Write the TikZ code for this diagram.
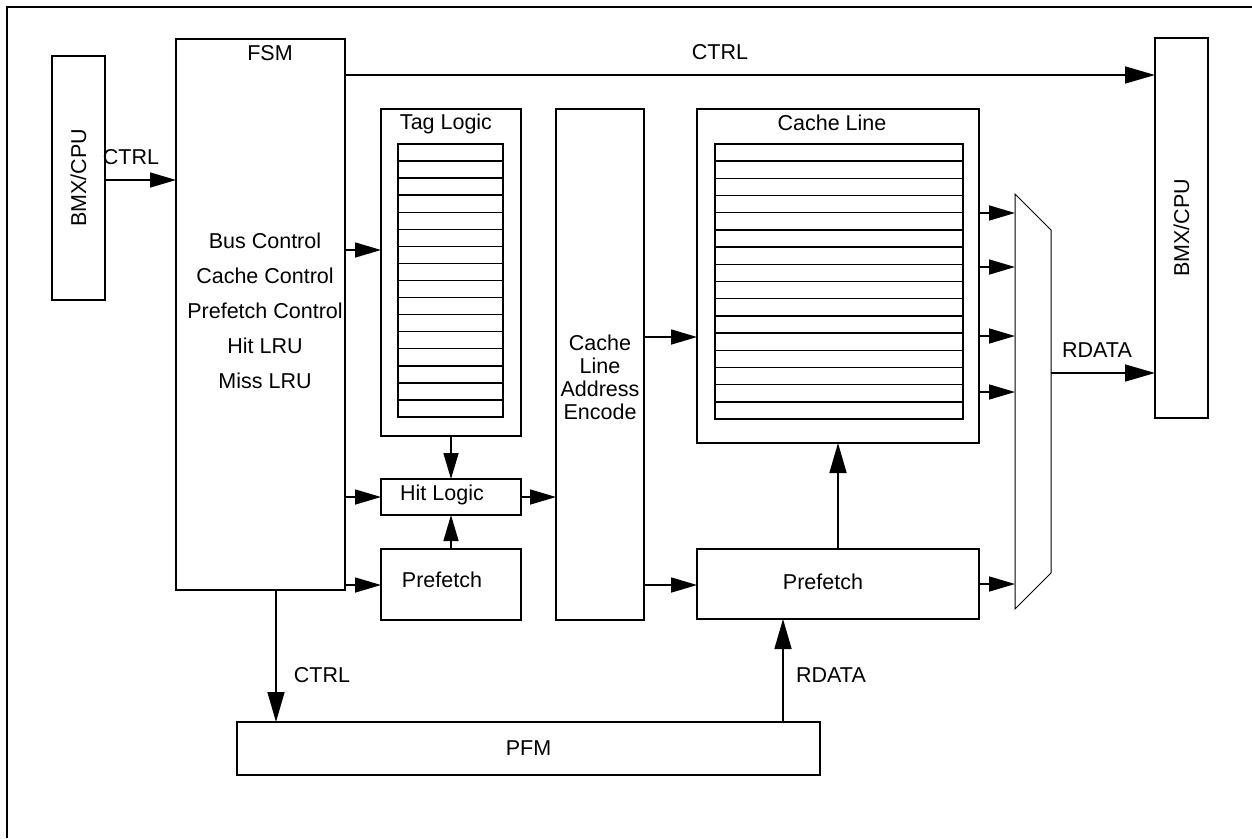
\documentclass[tikz,border=0pt]{standalone}
\usepackage{fontspec}
\setmainfont{Liberation Sans}
\usetikzlibrary{arrows.meta,calc}
\begin{document}
\begin{tikzpicture}[x=1pt,y=-1pt,
  every node/.style={font=\fontsize{21.5}{23}\selectfont, inner sep=0pt, outer sep=0pt},
  box/.style={draw, line width=1.6pt, inner sep=0pt, outer sep=0pt},
  arr/.style={line width=1.6pt, -{Triangle[length=26pt,width=15pt]}},
  bigarr/.style={line width=1.6pt, -{Triangle[length=30pt,width=17pt]}},
  rowline/.style={line width=1.4pt}]
\useasboundingbox (0,0) rectangle (1252,838);
% outer frame (top and left)
\draw[line width=1.6pt] (7,838) -- (7,7) -- (1252,7);
% boxes
\node[box, minimum width=53pt, minimum height=244pt] (bmxL) at (78.5,178) {};
\node[rotate=90] (bmxLt) at (78.5,178) {BMX/CPU};
\node[box, minimum width=169pt, minimum height=551pt] (fsm) at (260.5,314.5) {};
\node (fsmt) at (270,53) {FSM};
\node (f1) at (265,241) {Bus Control};
\node (f2) at (265,276) {Cache Control};
\node (f3) at (265,311) {Prefetch Control};
\node (f4) at (265,346) {Hit LRU};
\node (f5) at (265,381) {Miss LRU};
\node[box, minimum width=140pt, minimum height=327pt] (tag) at (451,272.5) {};
\node (tagt) at (446,124) {Tag Logic};
\node[box, minimum width=105pt, minimum height=273pt] (tagin) at (450.5,280.5) {};
\foreach \i in {1,...,15} {
  \draw[rowline] ($(tagin.north west)+(0,\i*273/16)$) -- ($(tagin.north east)+(0,\i*273/16)$);
}
\node[box, minimum width=140pt, minimum height=36pt] (hit) at (451,497) {};
\node (hitt) at (442,495) {Hit Logic};
\node[box, minimum width=140pt, minimum height=71pt] (pre1) at (451,584.5) {};
\node (pre1t) at (442,580) {Prefetch};
\node[box, minimum width=88pt, minimum height=511pt] (enc) at (600,364.5) {};
\node[align=center] (enct) at (600,377) {Cache\\Line\\Address\\Encode};
\node[box, minimum width=282pt, minimum height=334pt] (cl) at (838,276) {};
\node (clt) at (832,123) {Cache Line};
\node[box, minimum width=248pt, minimum height=275pt] (clin) at (839,281.5) {};
\foreach \i in {1,...,15} {
  \draw[rowline] ($(clin.north west)+(0,\i*275/16)$) -- ($(clin.north east)+(0,\i*275/16)$);
}
\node[box, minimum width=282pt, minimum height=70pt] (pre2) at (838,584) {};
\node (pre2t) at (823,582) {Prefetch};
\node[box, minimum width=53pt, minimum height=380pt] (bmxR) at (1181.5,228) {};
\node[rotate=90] (bmxRt) at (1181.5,228) {BMX/CPU};
\node[box, minimum width=583pt, minimum height=53pt] (pfm) at (528.5,748.5) {};
\node (pfmt) at (528.5,748.5) {PFM};
% mux
\coordinate (muxA) at (1015,194);
\coordinate (muxB) at (1051,230);
\coordinate (muxC) at (1051,573);
\coordinate (muxD) at (1015,609);
\draw[line width=1pt] (muxA) -- (muxB) -- (muxC) -- (muxD) -- cycle;
% connectors
\draw[arr] (bmxL.east |- 0,180) -- (fsm.west |- 0,180);
\node (c1) at (131,157) {CTRL};
\draw[bigarr] (fsm.east |- 0,75) -- (bmxR.west |- 0,75);
\node (c2) at (720,52) {CTRL};
\draw[arr] (fsm.east |- 0,250) -- (tag.west |- 0,250);
\draw[arr] (fsm.east |- hit.west) -- (hit.west);
\draw[arr] (fsm.east |- 0,585) -- (pre1.west |- 0,585);
\draw[arr] (tag.south) -- (hit.north);
\draw[arr] (pre1.north) -- (hit.south);
\draw[arr] (hit.east) -- (enc.west |- hit.east);
\draw[arr] (enc.east |- 0,337) -- (cl.west |- 0,337);
\draw[arr] (enc.east |- 0,585) -- (pre2.west |- 0,585);
\draw[bigarr] (pre2.north) -- (cl.south);
\foreach \yy in {213,267,336,392} {
  \draw[arr] (cl.east |- 0,\yy) -- (muxA |- 0,\yy);
}
\draw[arr] (pre2.east |- 0,584) -- (muxA |- 0,584);
\draw[bigarr] (muxB |- 0,373) -- (bmxR.west |- 0,373);
\node (r1) at (1097,350) {RDATA};
\draw[bigarr] (fsm.south -| 276,0) -- (pfm.north -| 276,0);
\node (c3) at (322,675) {CTRL};
\draw[bigarr] (pfm.north -| 783,0) -- (pre2.south -| 783,0);
\node (r2) at (831,675) {RDATA};
\end{tikzpicture}
\end{document}
